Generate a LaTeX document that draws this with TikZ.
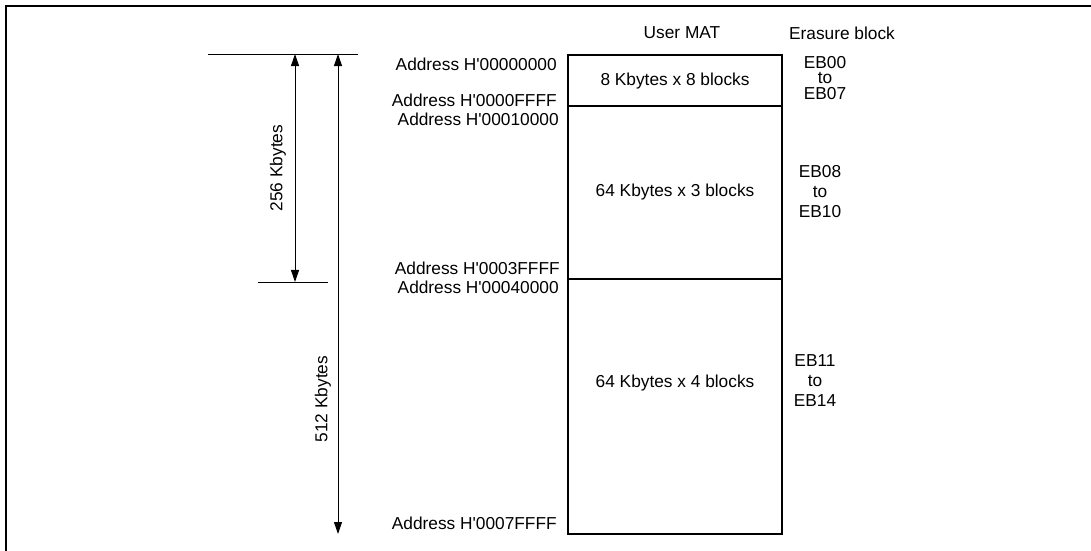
\documentclass[tikz,border=0pt]{standalone}
\usepackage{fontspec}
\setmainfont{Liberation Sans}
\usetikzlibrary{positioning, calc, arrows.meta}

\begin{document}
\begin{tikzpicture}[x=0.025cm,y=-0.025cm,
    lbl/.style={inner sep=0pt, font=\fontsize{12.3}{14}\selectfont},
    eb/.style={lbl, align=center},
    dimline/.style={line width=0.7pt, {Triangle[length=3mm,width=2mm]}-{Triangle[length=3mm,width=2mm]}},
    boxline/.style={line width=1.4pt},
    frameline/.style={line width=1.4pt}]
    \useasboundingbox (0,0) rectangle (1091,551);
    % frame
        \draw[frameline] (6,551) -- (6,6) -- (1091,6);
    % headers
        \node[lbl] (hmat) at (682,33) {User MAT};
        \node[lbl] (herase) at (842,33) {Erasure block};
    % user MAT
        \draw[boxline] (568,55) rectangle (782,534);
        \draw[boxline] (568,106) -- (782,106);
        \draw[boxline] (568,279) -- (782,279);
        \node[lbl] (blkA) at (675,81) {8 Kbytes x 8 blocks};
        \node[lbl] (blkB) at (675,192) {64 Kbytes x 3 blocks};
        \node[lbl] (blkC) at (675,383) {64 Kbytes x 4 blocks};
    % erasure blocks
        \node[eb, font=\fontsize{12.3}{11.2}\selectfont] (ebA) at (825,78) {EB00\\to\\EB07};
        \node[eb, font=\fontsize{12.3}{14.2}\selectfont] (ebB) at (820,192) {EB08\\to\\EB10};
        \node[eb, font=\fontsize{12.3}{14.2}\selectfont] (ebC) at (815,381) {EB11\\to\\EB14};
    % addresses
        \node[lbl, anchor=east] (adA) at (557,64) {Address H\textquotesingle 00000000};
        \node[lbl, anchor=east] (adB) at (557,100) {Address H\textquotesingle 0000FFFF};
        \node[lbl, anchor=east] (adC) at (559,119) {Address H\textquotesingle 00010000};
        \node[lbl, anchor=east] (adD) at (560,268) {Address H\textquotesingle 0003FFFF};
        \node[lbl, anchor=east] (adE) at (559,287) {Address H\textquotesingle 00040000};
        \node[lbl, anchor=east] (adF) at (557,523) {Address H\textquotesingle 0007FFFF};
    % dimensions
        \coordinate (topL) at (208,54);
        \coordinate (topR) at (358,54);
        \coordinate (midL) at (258,282);
        \coordinate (midR) at (328,282);
        \draw[line width=0.7pt] (topL) -- (topR);
        \draw[line width=0.7pt] (midL) -- (midR);
        \coordinate (dimAtop) at (295,54);
        \coordinate (dimAbot) at (295,282);
        \coordinate (dimBtop) at (338,54);
        \coordinate (dimBbot) at (338,534);
        \draw[dimline] (dimAtop) -- (dimAbot);
        \draw[dimline] (dimBtop) -- (dimBbot);
        \node[lbl, rotate=90] (kbA) at (278,168) {256 Kbytes};
        \node[lbl, rotate=90] (kbB) at (323,399) {512 Kbytes};
\end{tikzpicture}
\end{document}
